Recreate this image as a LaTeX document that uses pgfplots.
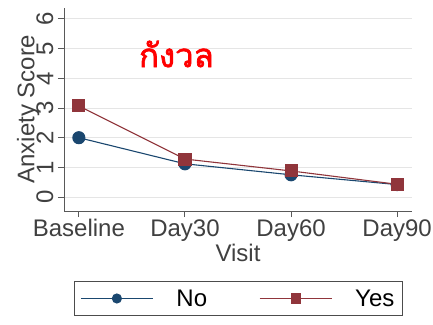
\documentclass[border=0pt]{standalone}
\usepackage{fontspec}
\setmainfont{Liberation Sans}
\newfontfamily\thaifont[Script=Thai, AutoFakeBold=2]{Loma}
\usepackage{pgfplots}
\pgfplotsset{compat=1.18}
\definecolor{snavy}{HTML}{1A476F}
\definecolor{smaroon}{HTML}{90353B}

\begin{document}
\begin{tikzpicture}[x=1pt,y=1pt]
\path[use as bounding box] (0,0) rectangle (433,324);
\begin{axis}[
  at={(64pt,113pt)}, anchor=south west,
  scale only axis, width=348pt, height=203pt,
  xmin=-0.14, xmax=3.14, ymin=-0.47, ymax=6.37,
  axis x line*=bottom, axis y line*=left,
  axis line style={-, black!65, line width=1pt},
  xtick={0,1,2,3}, xticklabels={Baseline,Day30,Day60,Day90},
  ytick={0,1,2,3,4,5,6},
  ymajorgrids, grid style={black!10, line width=1pt},
  tick align=outside, major tick length=6pt,
  tick style={black!65, line width=1pt},
  /pgf/number format/assume math mode=true,
  ticklabel style={font=\fontsize{24}{28}\selectfont, text=black!75},
  yticklabel style={rotate=90, anchor=south, yshift=1pt},
  xticklabel style={yshift=1pt},
  xlabel={Visit}, ylabel={Anxiety Score},
  label style={font=\fontsize{24}{28}\selectfont, text=black!75},
  xlabel style={at={(axis description cs:0.5,-0.205)}, anchor=center},
  ylabel style={at={(axis description cs:-0.103,0.5)}, anchor=center},
  legend columns=2,
  legend style={at={(axis description cs:0.501,-0.431)}, anchor=center,
    draw=black!70, line width=0.8pt, font=\fontsize{24}{28}\selectfont,
    inner xsep=6pt, inner ysep=6pt,
    nodes={inner xsep=2pt},
    /tikz/every odd column/.append style={column sep=21pt},
    /tikz/every even column/.append style={column sep=50pt}},
  legend image code/.code={\draw[mark repeat=2,mark phase=2,#1,mark size=4.5pt]
    plot coordinates {(0pt,0pt) (36pt,0pt) (72pt,0pt)};},
]
\addplot[color=snavy, line width=1.1pt, mark=*, mark size=6pt,
  mark options={fill=snavy, draw=snavy}]
  coordinates {(0,2.0) (1,1.12) (2,0.75) (3,0.42)};
\addlegendentry{No}
\addplot[color=smaroon, line width=1.1pt, mark=square*, mark size=6pt,
  mark options={fill=smaroon, draw=smaroon}]
  coordinates {(0,3.07) (1,1.28) (2,0.88) (3,0.43)};
\addlegendentry{Yes}
\node[text=red, font=\thaifont\bfseries\fontsize{33}{37}\selectfont]
  at (axis cs:0.92,4.82) {กังวล};
\end{axis}
\end{tikzpicture}
\end{document}
